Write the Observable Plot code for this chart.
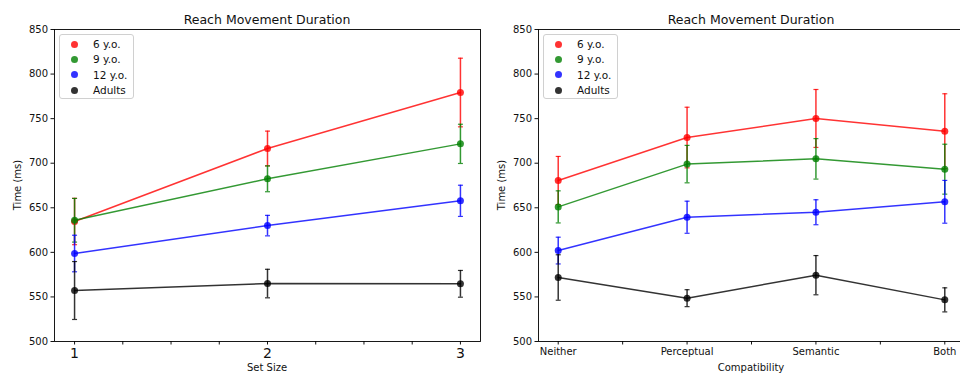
<!DOCTYPE html>
<html>
<head>
<meta charset="utf-8">
<script src="https://cdn.jsdelivr.net/npm/d3@7"></script>
<script src="https://cdn.jsdelivr.net/npm/@observablehq/plot@0.6"></script>
<style>
  html, body { margin: 0; padding: 0; }
  body { width: 960px; height: 374px; overflow: hidden; background: #fff; position: relative;
         font-family: "DejaVu Sans", sans-serif; color: #111; }
  .svgwrap { position: absolute; top: 0; }
  .svgwrap svg { max-width: none !important; }
  .lbl { position: absolute; white-space: nowrap; transform: translate(-50%, -50%); }
  .title { font-size: 12.5px; }
  .axlbl { font-size: 10px; }
  .ylbl { transform: translate(-50%, -50%) rotate(-90deg); }
  .legend { position: absolute; border: 1px solid #d0d0d0; border-radius: 3px; background: rgba(255,255,255,0.8);
            box-sizing: border-box; font-size: 10.5px; }
  .legend .row { position: absolute; left: 0; height: 14px; line-height: 14px; white-space: nowrap; }
  .legend .sw { position: absolute; width: 7px; height: 7px; border-radius: 50%; top: 3.5px; }
  .legend .tx { position: absolute; }
</style>
</head>
<body>
<script>
// ---- data ----
const groups = ["6 y.o.", "9 y.o.", "12 y.o.", "Adults"];
const groupColors = ["#ff0000", "#008000", "#0000ff", "#000000"];

const setSizes = [1, 2, 3];
const setSizeMean6 = [634.6, 716.5, 779.3];
const setSizeErr6 = [26, 19.5, 38.5];
const setSizeMean9 = [636, 682.5, 721.7];
const setSizeErr9 = [24.5, 14.5, 22];
const setSizeMean12 = [598.7, 630, 657.8];
const setSizeErr12 = [20.5, 11.5, 17.5];
const setSizeMeanAdult = [557.2, 565, 564.7];
const setSizeErrAdult = [32.5, 16, 15];

const conditions = ["Neither", "Perceptual", "Semantic", "Both"];
const compatMean6 = [680.6, 728.8, 750.2, 735.9];
const compatErr6 = [27, 34, 32.5, 42];
const compatMean9 = [651, 699, 704.9, 693.3];
const compatErr9 = [18, 21, 22.7, 28];
const compatMean12 = [602, 639.4, 645, 656.7];
const compatErr12 = [15, 18, 14, 24];
const compatMeanAdult = [571.8, 548.6, 574.4, 546.7];
const compatErrAdult = [25.5, 9.5, 22, 13.5];

const yTicks = [500, 550, 600, 650, 700, 750, 800, 850];
const titleText = "Reach Movement Duration";

// ---- build rows ----
function buildRows(xs, means, errs) {
  return groups.map((g, i) => xs.map((x, j) => ({group: g, x, mean: means[i][j], err: errs[i][j]})));
}
const setRows = buildRows(setSizes,
  [setSizeMean6, setSizeMean9, setSizeMean12, setSizeMeanAdult],
  [setSizeErr6, setSizeErr9, setSizeErr12, setSizeErrAdult]);
const compatRows = buildRows(conditions.map((c, i) => i),
  [compatMean6, compatMean9, compatMean12, compatMeanAdult],
  [compatErr6, compatErr9, compatErr12, compatErrAdult]);

const capSymbol = {
  draw(ctx, size) { const w = Math.sqrt(size / Math.PI); ctx.moveTo(-w, 0); ctx.lineTo(w, 0); }
};

function seriesMarks(rowsByGroup) {
  return rowsByGroup.flatMap((rows, i) => {
    const c = groupColors[i];
    return [
      Plot.ruleX(rows, {x: "x", y1: d => d.mean - d.err, y2: d => d.mean + d.err, stroke: c, strokeOpacity: 0.8, strokeWidth: 1.5}),
      Plot.dot(rows, {x: "x", y: d => d.mean - d.err, symbol: capSymbol, r: 2.5, fill: "none", stroke: c, strokeOpacity: 0.8, strokeWidth: 1.2}),
      Plot.dot(rows, {x: "x", y: d => d.mean + d.err, symbol: capSymbol, r: 2.5, fill: "none", stroke: c, strokeOpacity: 0.8, strokeWidth: 1.2}),
      Plot.line(rows, {x: "x", y: "mean", stroke: c, strokeOpacity: 0.8, strokeWidth: 1.5}),
      Plot.dot(rows, {x: "x", y: "mean", r: 3.5, fill: c, fillOpacity: 0.8, stroke: "none"})
    ];
  });
}

function makePanel({left, width, marginLeft, marginRight, xDomain, xTicks, xTickFormat, xFontSize, rows}) {
  const svg = Plot.plot({
    width, height: 374,
    marginTop: 29, marginBottom: 33, marginLeft, marginRight,
    style: {fontFamily: "DejaVu Sans", fontSize: "10px", background: "transparent", color: "#111", overflow: "visible", maxWidth: "none"},
    x: {domain: xDomain},
    y: {domain: [500, 850]},
    marks: [
      Plot.axisY({ticks: yTicks, tickSize: 3.5, tickPadding: 3, label: null, fontSize: 10}),
      Plot.axisX({ticks: xTicks, tickSize: 3.5, tickPadding: 3, tickFormat: xTickFormat, label: null, fontSize: xFontSize}),
      ...seriesMarks(rows),
      Plot.frame({stroke: "#000", strokeWidth: 0.9})
    ]
  });
  const wrap = document.createElement("div");
  wrap.className = "svgwrap";
  wrap.style.left = left + "px";
  wrap.style.width = width + "px";
  wrap.appendChild(svg);
  document.body.appendChild(wrap);
}

function addLabel(text, cls, x, y) {
  const d = document.createElement("div");
  d.className = "lbl " + cls;
  d.style.left = x + "px";
  d.style.top = y + "px";
  d.textContent = text;
  document.body.appendChild(d);
}

function addLegend(x, y) {
  const box = document.createElement("div");
  box.className = "legend";
  box.style.left = x + "px"; box.style.top = y + "px";
  box.style.width = "75px"; box.style.height = "65px";
  groups.forEach((g, i) => {
    const row = document.createElement("div");
    row.className = "row";
    row.style.top = (2 + i * 15.4) + "px";
    const sw = document.createElement("div");
    sw.className = "sw";
    sw.style.left = "11px";
    sw.style.background = groupColors[i];
    sw.style.opacity = 0.8;
    const tx = document.createElement("div");
    tx.className = "tx";
    tx.style.left = "33px";
    tx.textContent = g;
    row.appendChild(sw); row.appendChild(tx);
    box.appendChild(row);
  });
  document.body.appendChild(box);
}

// Left panel: frame 54..480
makePanel({
  left: 0, width: 482, marginLeft: 54, marginRight: 2,
  xDomain: [0.896, 3.104],
  xTicks: d3.range(1, 3.001, 0.25),
  xTickFormat: d => Number.isInteger(d) ? String(d) : "",
  xFontSize: 14,
  rows: setRows
});
// Right panel: frame 538..964 (clipped at 960)
makePanel({
  left: 481, width: 490, marginLeft: 57, marginRight: 7,
  xDomain: [-0.153, 3.153],
  xTicks: d3.range(0, 3.001, 0.5),
  xTickFormat: d => Number.isInteger(d) ? conditions[d] : "",
  xFontSize: 10,
  rows: compatRows
});

addLabel(titleText, "title", 267, 19);
addLabel(titleText, "title", 751, 19);
addLabel("Set Size", "axlbl", 267, 367);
addLabel("Compatibility", "axlbl", 751, 367);
addLabel("Time (ms)", "axlbl ylbl", 17, 185);
addLabel("Time (ms)", "axlbl ylbl", 501, 185);
addLegend(59, 34);
addLegend(543, 34);
</script>
</body>
</html>
